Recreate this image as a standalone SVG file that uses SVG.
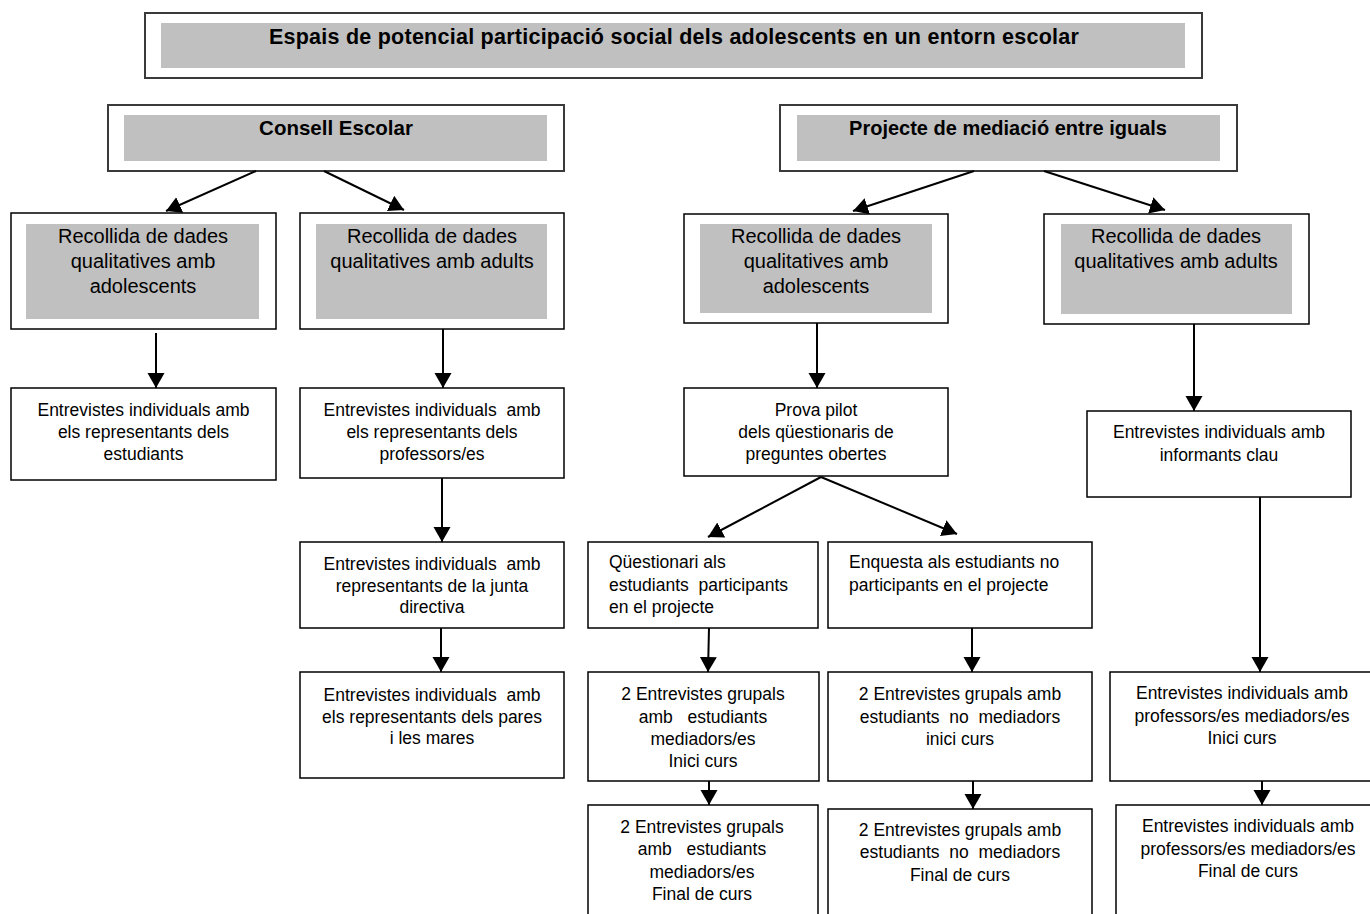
<svg xmlns="http://www.w3.org/2000/svg" width="1370" height="914" viewBox="0 0 1370 914">
  <style>
    .frame { fill: #ffffff; stroke: #000000; stroke-width: 1.5; }
    .outer { fill: #ffffff; stroke: #3a3a3a; stroke-width: 2; }
    .shade { fill: #c0c0c0; stroke: none; }
    text { font-family: "Liberation Sans", Arial, sans-serif; fill: #000000; white-space: pre; }
    .head { font-size: 20.5px; font-weight: bold; text-anchor: middle; }
    .sub { font-size: 20px; text-anchor: middle; }
    .body { font-size: 17.5px; text-anchor: middle; }
    .left { font-size: 17.5px; text-anchor: start; }
    .link { stroke: #000000; stroke-width: 2; fill: none; marker-end: url(#arrow); }
  </style>
  <defs>
    <marker id="arrow" markerUnits="userSpaceOnUse" markerWidth="16" markerHeight="18" refX="15" refY="8.5" orient="auto">
      <path d="M0,0 L15,8.5 L0,17 Z" fill="#000000"/>
    </marker>
  </defs>

  <rect width="1370" height="914" fill="#ffffff"/>

  <!-- main heading -->
  <g id="title">
    <rect class="outer" x="145" y="13" width="1057" height="65"/>
    <rect class="shade" x="161" y="23" width="1024" height="45"/>
    <text class="head" x="674" y="43.5" style="font-size:21.5px; letter-spacing:0.25px">Espais de potencial participació social dels adolescents en un entorn escolar</text>
  </g>

  <!-- the two participation spaces -->
  <g id="consell-escolar">
    <rect class="outer" x="108" y="105" width="456" height="66"/>
    <rect class="shade" x="124" y="115" width="423" height="46"/>
    <text class="head" x="336" y="135">Consell Escolar</text>
  </g>
  <g id="projecte-mediacio">
    <rect class="outer" x="780" y="105" width="457" height="66"/>
    <rect class="shade" x="797" y="115" width="423" height="46"/>
    <text class="head" x="1008" y="135" style="font-size:20px">Projecte de mediació entre iguals</text>
  </g>

  <!-- data collection groups -->
  <g id="ce-adolescents">
    <rect class="frame" x="11" y="213" width="265" height="116"/>
    <rect class="shade" x="26" y="224" width="233" height="95"/>
    <text class="sub" x="143" y="243">Recollida de dades</text>
    <text class="sub" x="143" y="268">qualitatives amb</text>
    <text class="sub" x="143" y="293">adolescents</text>
  </g>
  <g id="ce-adults">
    <rect class="frame" x="300" y="213" width="264" height="116"/>
    <rect class="shade" x="316" y="224" width="231" height="95"/>
    <text class="sub" x="432" y="243">Recollida de dades</text>
    <text class="sub" x="432" y="268">qualitatives amb adults</text>
  </g>
  <g id="pm-adolescents">
    <rect class="frame" x="684" y="214" width="264" height="109"/>
    <rect class="shade" x="700" y="224" width="232" height="89"/>
    <text class="sub" x="816" y="243">Recollida de dades</text>
    <text class="sub" x="816" y="268">qualitatives amb</text>
    <text class="sub" x="816" y="293">adolescents</text>
  </g>
  <g id="pm-adults">
    <rect class="frame" x="1044" y="214" width="265" height="110"/>
    <rect class="shade" x="1061" y="224" width="231" height="90"/>
    <text class="sub" x="1176" y="243">Recollida de dades</text>
    <text class="sub" x="1176" y="268">qualitatives amb adults</text>
  </g>

  <!-- Consell Escolar interviews -->
  <g id="ent-estudiants">
    <rect class="frame" x="11" y="388" width="265" height="92"/>
    <text class="body" x="143.5" y="416">Entrevistes individuals amb</text>
    <text class="body" x="143.5" y="438">els representants dels</text>
    <text class="body" x="143.5" y="460">estudiants</text>
  </g>
  <g id="ent-professors">
    <rect class="frame" x="300" y="388" width="264" height="90"/>
    <text class="body" x="432" y="416">Entrevistes individuals  amb</text>
    <text class="body" x="432" y="438">els representants dels</text>
    <text class="body" x="432" y="460">professors/es</text>
  </g>
  <g id="ent-junta">
    <rect class="frame" x="300" y="542" width="264" height="86"/>
    <text class="body" x="432" y="570">Entrevistes individuals  amb</text>
    <text class="body" x="432" y="592">representants de la junta</text>
    <text class="body" x="432" y="613">directiva</text>
  </g>
  <g id="ent-pares">
    <rect class="frame" x="300" y="672" width="264" height="106"/>
    <text class="body" x="432" y="701">Entrevistes individuals  amb</text>
    <text class="body" x="432" y="723">els representants dels pares</text>
    <text class="body" x="432" y="744">i les mares</text>
  </g>

  <!-- mediation project, students -->
  <g id="prova-pilot">
    <rect class="frame" x="684" y="388" width="264" height="88"/>
    <text class="body" x="816" y="416">Prova pilot</text>
    <text class="body" x="816" y="438">dels qüestionaris de</text>
    <text class="body" x="816" y="460">preguntes obertes</text>
  </g>
  <g id="questionari">
    <rect class="frame" x="588" y="542" width="230" height="86"/>
    <text class="left" x="609" y="568">Qüestionari als</text>
    <text class="left" x="609" y="591">estudiants  participants</text>
    <text class="left" x="609" y="613">en el projecte</text>
  </g>
  <g id="enquesta">
    <rect class="frame" x="828" y="542" width="264" height="86"/>
    <text class="left" x="849" y="568">Enquesta als estudiants no</text>
    <text class="left" x="849" y="591">participants en el projecte</text>
  </g>
  <g id="grup-mediadors-inici">
    <rect class="frame" x="588" y="672" width="231" height="109"/>
    <text class="body" x="703" y="700">2 Entrevistes grupals</text>
    <text class="body" x="703" y="722.5">amb   estudiants</text>
    <text class="body" x="703" y="745">mediadors/es</text>
    <text class="body" x="703" y="767">Inici curs</text>
  </g>
  <g id="grup-no-mediadors-inici">
    <rect class="frame" x="828" y="672" width="264" height="109"/>
    <text class="body" x="960" y="700">2 Entrevistes grupals amb</text>
    <text class="body" x="960" y="722.5">estudiants  no  mediadors</text>
    <text class="body" x="960" y="745">inici curs</text>
  </g>
  <g id="grup-mediadors-final">
    <rect class="frame" x="588" y="805" width="230" height="120"/>
    <text class="body" x="702" y="833">2 Entrevistes grupals</text>
    <text class="body" x="702" y="855">amb   estudiants</text>
    <text class="body" x="702" y="878">mediadors/es</text>
    <text class="body" x="702" y="900">Final de curs</text>
  </g>
  <g id="grup-no-mediadors-final">
    <rect class="frame" x="828" y="809" width="264" height="120"/>
    <text class="body" x="960" y="836">2 Entrevistes grupals amb</text>
    <text class="body" x="960" y="858">estudiants  no  mediadors</text>
    <text class="body" x="960" y="881">Final de curs</text>
  </g>

  <!-- mediation project, adults -->
  <g id="informants">
    <rect class="frame" x="1087" y="411" width="264" height="86"/>
    <text class="body" x="1219" y="438">Entrevistes individuals amb</text>
    <text class="body" x="1219" y="461">informants clau</text>
  </g>
  <g id="prof-inici">
    <rect class="frame" x="1110" y="672" width="270" height="109"/>
    <text class="body" x="1242" y="699">Entrevistes individuals amb</text>
    <text class="body" x="1242" y="722">professors/es mediadors/es</text>
    <text class="body" x="1242" y="744">Inici curs</text>
  </g>
  <g id="prof-final">
    <rect class="frame" x="1116" y="805" width="264" height="120"/>
    <text class="body" x="1248" y="832">Entrevistes individuals amb</text>
    <text class="body" x="1248" y="855">professors/es mediadors/es</text>
    <text class="body" x="1248" y="877">Final de curs</text>
  </g>

  <!-- arrows -->
  <g id="connectors">
    <line class="link" x1="256" y1="171" x2="166" y2="211"/>
    <line class="link" x1="324" y1="171" x2="404" y2="210"/>
    <line class="link" x1="974" y1="171" x2="853" y2="211"/>
    <line class="link" x1="1044" y1="171" x2="1165" y2="210"/>
    <line class="link" x1="156" y1="333" x2="156" y2="388"/>
    <line class="link" x1="443" y1="329" x2="443" y2="388"/>
    <line class="link" x1="442" y1="478" x2="442" y2="542"/>
    <line class="link" x1="441" y1="628" x2="441" y2="672"/>
    <line class="link" x1="817" y1="323" x2="817" y2="388"/>
    <line class="link" x1="1194" y1="324" x2="1194" y2="411"/>
    <line class="link" x1="821" y1="477" x2="708" y2="537"/>
    <line class="link" x1="821" y1="477" x2="957" y2="534"/>
    <line class="link" x1="709" y1="628" x2="708" y2="672"/>
    <line class="link" x1="972" y1="628" x2="972" y2="672"/>
    <line class="link" x1="1260" y1="497" x2="1260" y2="672"/>
    <line class="link" x1="709" y1="781" x2="709" y2="805"/>
    <line class="link" x1="973" y1="781" x2="973" y2="809"/>
    <line class="link" x1="1262" y1="781" x2="1262" y2="805"/>
  </g>
</svg>
